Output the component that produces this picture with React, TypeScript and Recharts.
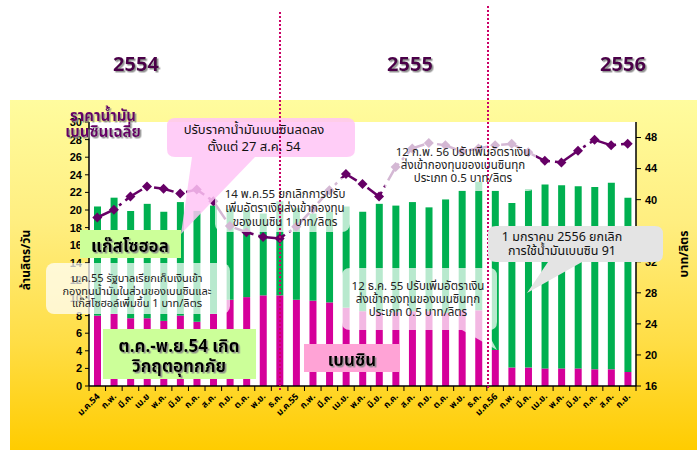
import React from 'react';
import { ComposedChart, Bar, Line, XAxis, YAxis, CartesianGrid } from 'recharts';

const MONTHS = ['ม.ค.54','ก.พ.','มี.ค.','เม.ย','พ.ค.','มิ.ย.','ก.ค.','ส.ค.','ก.ย.','ต.ค.','พ.ย.','ธ.ค.',
  'ม.ค.55','ก.พ.','มี.ค.','เม.ย.','พ.ค.','มิ.ย.','ก.ค.','ส.ค.','ก.ย.','ต.ค.','พ.ย.','ธ.ค.',
  'ม.ค.56','ก.พ.','มี.ค.','เม.ย.','พ.ค.','มิ.ย.','ก.ค.','ส.ค.','ก.ย.'];
const BENZIN = [8.0, 8.2, 7.7, 7.7, 7.4, 8.0, 7.3, 8.2, 9.8, 10.1, 10.3, 10.3,
  9.8, 9.7, 9.5, 8.9, 8.5, 8.4, 8.4, 8.5, 8.5, 8.3, 8.6, 8.6,
  4.1, 2.1, 2.1, 2.0, 2.0, 2.0, 1.9, 1.9, 1.6];
const GASOHOL = [12.4, 13.2, 12.2, 13.0, 12.4, 12.9, 12.6, 12.3, 10.3, 9.9, 9.3, 10.7,
  10.4, 9.9, 10.3, 11.5, 11.3, 12.3, 12.1, 12.4, 11.8, 12.9, 13.6, 14.6,
  18.1, 18.7, 20.3, 20.9, 20.8, 20.7, 20.7, 21.2, 19.8];
const PRICE = [37.7, 38.7, 40.4, 41.7, 41.4, 40.8, 41.3, 39.8, 36.6, 35.8, 35.2, 35.0,
  36.5, 38.8, 41.2, 43.3, 42.0, 40.4, 44.2, 46.6, 47.3, 47.0, 46.2, 46.6,
  47.0, 47.2, 46.1, 45.0, 44.8, 46.3, 47.7, 47.0, 47.2];
const LEFT_TICKS = [0, 2, 4, 6, 8, 10, 12, 14, 16, 18, 20, 22, 24, 26, 28, 30];
const RIGHT_TICKS = [16, 20, 24, 28, 32, 36, 40, 44, 48];
const YEARS = ['2554', '2555', '2556'];

const NOTE_PRICE_CUT = ['ปรับราคาน้ำมันเบนซินลดลง', 'ตั้งแต่ 27 ส.ค. 54'];
const NOTE_MAY55 = ['14 พ.ค.55 ยกเลิกการปรับ', 'เพิ่มอัตราเงินส่งเข้ากองทุน', 'ของเบนซิน 1 บาท/ลิตร'];
const NOTE_JAN55 = ['ม.ค.55 รัฐบาลเรียกเก็บเงินเข้า', 'กองทุนน้ำมันในส่วนของเบนซินและ', 'แก๊สโซฮอล์เพิ่มขึ้น 1 บาท/ลิตร'];
const NOTE_DEC55 = ['12 ธ.ค. 55 ปรับเพิ่มอัตราเงิน', 'ส่งเข้ากองทุนของเบนซินทุก', 'ประเภท  0.5 บาท/ลิตร'];
const NOTE_FEB56 = ['12 ก.พ. 56 ปรับเพิ่มอัตราเงิน', 'ส่งเข้ากองทุนของเบนซินทุก', 'ประเภท  0.5 บาท/ลิตร'];
const NOTE_JAN56 = ['1 มกราคม 2556 ยกเลิก', 'การใช้น้ำมันเบนซิน 91'];
const NOTE_FLOOD = ['ต.ค.-พ.ย.54 เกิด', 'วิกฤตอุทกภัย'];

const data = MONTHS.map((m, i) => ({ key: i, month: m, benzin: BENZIN[i], gasohol: GASOHOL[i], price: PRICE[i] }));

const FONT = "Tahoma, 'Noto Sans Thai', 'Noto Sans', 'DejaVu Sans', sans-serif";
const W = 697, H = 450;
const PLOT_L = 89, PLOT_R = 636, PLOT_T = 122, PLOT_B = 386;
const BAND = (PLOT_R - PLOT_L) / MONTHS.length;

const XTick = (props: any) => {
  const { x, y, payload, index } = props;
  const label = MONTHS[payload.value];
  const bx = x - BAND / 2;
  return (
    <g>
      <line x1={bx} y1={y - 5} x2={bx} y2={y} stroke="#000" strokeWidth={1} />
      {index === MONTHS.length - 1 && <line x1={x + BAND / 2} y1={y - 5} x2={x + BAND / 2} y2={y} stroke="#000" />}
      <text transform={`translate(${x + 3},${y + 6}) rotate(-45)`} textAnchor="end" fontSize={9} fontWeight="bold" fontFamily={FONT} fill="#000">{label}</text>
    </g>
  );
};

const Diamond = (props: any) => {
  const { cx, cy } = props;
  if (cx == null || cy == null) return null;
  return <path d={`M${cx},${cy - 5}L${cx + 5},${cy}L${cx},${cy + 5}L${cx - 5},${cy}Z`} fill="#660066" />;
};

const Lines = ({ x, y, dy, lines, size, weight, color, shadow }: any) => (
  <g filter={shadow ? 'url(#txtShadow)' : undefined}>
    {lines.map((l: string, i: number) => (
      <text key={i} x={x} y={y + i * dy} textAnchor="middle" fontSize={size} fontWeight={weight} fontFamily={FONT} fill={color}>{l}</text>
    ))}
  </g>
);

export default function App() {
  return (
    <div style={{ position: 'absolute', left: 0, top: 0, width: W, height: H, background: '#fff', overflow: 'hidden' }}>
      <div style={{ position: 'absolute', left: 10, top: 100, width: W - 10, height: H - 100,
        background: 'linear-gradient(180deg, #FFFC9E 0%, #FFEE80 35%, #FFDD44 70%, #FFCC00 100%)' }} />
      <div style={{ position: 'absolute', left: 0, top: 0 }}>
        <ComposedChart width={W} height={H} data={data}
          margin={{ top: PLOT_T, right: W - PLOT_R - 40, bottom: H - PLOT_B - 40, left: PLOT_L - 40 }}>
          <CartesianGrid fill="#fff" stroke="none" />
          <XAxis dataKey="key" type="category" interval={0} height={40} tickLine={false} tickSize={5} tickMargin={0}
            tick={<XTick />} axisLine={{ stroke: '#000', strokeWidth: 1.5 }} />
          <YAxis yAxisId="left" width={40} domain={[0, 30]} ticks={LEFT_TICKS} interval={0} tickSize={4} tickMargin={3}
            axisLine={{ stroke: '#000', strokeWidth: 1.5 }} tickLine={{ stroke: '#000' }}
            tick={{ fontSize: 11, fontWeight: 'bold', fill: '#000', fontFamily: 'Liberation Sans, Arial, sans-serif' }} />
          <YAxis yAxisId="right" orientation="right" width={40} domain={[16, 50]} ticks={RIGHT_TICKS} interval={0} tickSize={5} tickMargin={4}
            axisLine={{ stroke: '#000', strokeWidth: 1.5 }} tickLine={{ stroke: '#000' }}
            tick={{ fontSize: 11, fontWeight: 'bold', fill: '#000', fontFamily: 'Liberation Sans, Arial, sans-serif' }} />
          <Bar yAxisId="left" dataKey="benzin" stackId="a" fill="#D5009A" barSize={7} isAnimationActive={false} />
          <Bar yAxisId="left" dataKey="gasohol" stackId="a" fill="#00B050" barSize={7} isAnimationActive={false} />
          <Line yAxisId="right" dataKey="price" stroke="#660066" strokeWidth={2.5} strokeDasharray="20 5 3 5"
            dot={<Diamond />} activeDot={false} isAnimationActive={false} />
        </ComposedChart>
      </div>
      <svg width={W} height={H} style={{ position: 'absolute', left: 0, top: 0, pointerEvents: 'none' }}>
        <defs>
          <filter id="txtShadow" x="-10%" y="-30%" width="130%" height="170%">
            <feDropShadow dx={1.5} dy={1.5} stdDeviation={0.6} floodColor="#888" floodOpacity={0.9} />
          </filter>
        </defs>
        {/* semi-transparent white note boxes */}
        <rect x={215} y={178} width={135} height={54} rx={8} fill="#fff" fillOpacity={0.72} />
        <rect x={46} y={263} width={184} height={51} rx={8} fill="#fff" fillOpacity={0.72} />
        <path d="M350,268 H489 Q497,268 497,276 V322 Q497,330 489,330 H486 L497,350 L462,330 H350 Q342,330 342,322 V276 Q342,268 350,268 Z" fill="#fff" fillOpacity={0.72} />
        <rect x={384} y={138} width={152} height={53} rx={8} fill="#fff" fillOpacity={0.72} />
        {/* pink callout */}
        <path d="M175,118 H347 Q355,118 355,126 V149 Q355,157 347,157 H255 L181,234 L192,157 H175 Q167,157 167,149 V126 Q167,118 175,118 Z" fill="#FFC4F6" fillOpacity={0.85} />
        {/* solid label boxes */}
        <rect x={80} y={230} width={101} height={28} fill="#CCFF99" />
        <rect x={103} y={329} width={153} height={50} fill="#CCFF99" />
        <rect x={304} y={344} width={96} height={28} fill="#FFA3D6" />
        {/* year separators */}
        <line x1={280} y1={12} x2={280} y2={390} stroke="#CC0066" strokeWidth={2} strokeDasharray="2 2" />
        <line x1={488} y1={6} x2={488} y2={390} stroke="#CC0066" strokeWidth={2} strokeDasharray="2 2" />
        {/* gray callout */}
        <path d="M496,226 H655 Q663,226 663,234 V254 Q663,262 655,262 H582 L527,293 L548,262 H496 Q488,262 488,254 V234 Q488,226 496,226 Z" fill="#E4E4E4" />
        {/* year labels */}
        {YEARS.map((yr, i) => (
          <Lines key={yr} x={[136, 410, 623][i]} y={71} dy={0} lines={[yr]} size={20} weight="bold" color="#4B0049" shadow />
        ))}
        {/* axis titles */}
        <text transform="translate(30,260) rotate(-90)" textAnchor="middle" fontSize={12} fontWeight="bold" fontFamily={FONT} fill="#000">ล้านลิตร/วัน</text>
        <text transform="translate(688,254) rotate(-90)" textAnchor="middle" fontSize={12} fontWeight="bold" fontFamily={FONT} fill="#000">บาท/ลิตร</text>
        <Lines x={103} y={121} dy={16} lines={['ราคาน้ำมัน', 'เบนซินเฉลี่ย']} size={15} weight="bold" color="#660066" shadow />
        {/* notes */}
        <Lines x={254} y={134} dy={17} lines={NOTE_PRICE_CUT} size={13} weight="normal" color="#111" />
        <Lines x={285} y={198} dy={14} lines={NOTE_MAY55} size={11.5} weight="normal" color="#222" />
        <Lines x={137} y={282} dy={12.5} lines={NOTE_JAN55} size={11} weight="normal" color="#222" />
        <Lines x={418} y={290} dy={13} lines={NOTE_DEC55} size={11.5} weight="normal" color="#222" />
        <Lines x={463} y={156} dy={13} lines={NOTE_FEB56} size={11.5} weight="normal" color="#222" />
        <Lines x={562} y={241} dy={14} lines={NOTE_JAN56} size={12.5} weight="normal" color="#111" />
        <Lines x={130} y={252} dy={0} lines={['แก๊สโซฮอล']} size={17} weight="bold" color="#000" shadow />
        <Lines x={179} y={352} dy={20} lines={NOTE_FLOOD} size={17} weight="bold" color="#000" shadow />
        <Lines x={352} y={366} dy={0} lines={['เบนซิน']} size={17} weight="bold" color="#000" shadow />
      </svg>
    </div>
  );
}
